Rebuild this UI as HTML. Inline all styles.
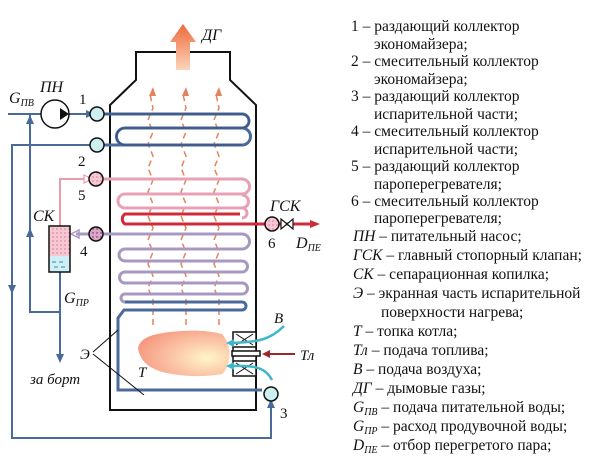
<!DOCTYPE html>
<html><head><meta charset="utf-8"><style>
html,body{margin:0;padding:0;background:#fff;}
svg{display:block}
text{font-family:"Liberation Serif",serif;fill:#111}
.i{font-style:italic}
</style></head><body>
<svg width="611" height="465" viewBox="0 0 611 465" xmlns="http://www.w3.org/2000/svg">
<defs>
<radialGradient id="fl" cx="0.75" cy="0.6" r="0.8">
<stop offset="0" stop-color="#fff6c8"/><stop offset="0.45" stop-color="#fbc7a8"/><stop offset="1" stop-color="#f5967e"/>
</radialGradient>
<linearGradient id="dg" x1="0" y1="1" x2="0" y2="0">
<stop offset="0" stop-color="#fbd5bc"/><stop offset="1" stop-color="#ef6a3a"/>
</linearGradient>
<pattern id="dots" width="4" height="4" patternUnits="userSpaceOnUse"><rect width="4" height="4" fill="#f7c8d4"/><circle cx="1" cy="1" r="0.6" fill="#c05070"/></pattern>
<pattern id="dots2" width="4" height="4" patternUnits="userSpaceOnUse"><rect width="4" height="4" fill="#d9a6c6"/><circle cx="1" cy="1" r="0.7" fill="#702050"/></pattern>
</defs>

<path d="M110,410 V105 L136,80 V52 H230 V80 L256,105 V410 Z" fill="none" stroke="#111" stroke-width="2"/>
<path d="M176,70 V42 H170 L183,24 L196,42 H190 V70 Z" fill="url(#dg)"/>
<text x="202" y="40" class="i" font-size="16">ДГ</text>

<g fill="none" stroke="#e2845c" stroke-width="1.5" stroke-dasharray="6,4">
<path d="M153,325 V300 l-5,-12 l5,-12 l-5,-12 l5,-12 l-5,-12 l5,-12 l-5,-12 l5,-12 l-5,-12 l5,-12 l-5,-12 l5,-12 l-5,-12 l5,-12 l-5,-12 l5,-12 l-3,-14"/>
<path d="M186,325 V300 l-5,-12 l5,-12 l-5,-12 l5,-12 l-5,-12 l5,-12 l-5,-12 l5,-12 l-5,-12 l5,-12 l-5,-12 l5,-12 l-5,-12 l5,-12 l-5,-12 l5,-12 l-3,-14"/>
<path d="M219,325 V300 l-5,-12 l5,-12 l-5,-12 l5,-12 l-5,-12 l5,-12 l-5,-12 l5,-12 l-5,-12 l5,-12 l-5,-12 l5,-12 l-5,-12 l5,-12 l-5,-12 l5,-12 l-3,-14"/>
</g>
<g fill="#e2845c"><path d="M149,96 l4,-9 l3,9z"/><path d="M182,96 l4,-9 l3,9z"/><path d="M215,96 l4,-9 l3,9z"/></g>

<g fill="none" stroke="#4a6a9a" stroke-width="3">
<path d="M98,114 H242 a7,7 0 0 1 0,14 H125 a8.5,8.5 0 0 0 0,17 H242 a8.5,8.5 0 0 0 0,-17"/>
<path d="M98,145 H125"/>
</g>
<g fill="none" stroke="#394f7a" stroke-width="1"><path d="M98,114 H242 a7,7 0 0 1 0,14 H125 a8.5,8.5 0 0 0 0,17 H242"/></g>

<g fill="none" stroke="#e8a0b4" stroke-width="3">
<path d="M98,179 H242 a7.5,7.5 0 0 1 0,15 H125 a7,7 0 0 0 0,14 H242 a6.5,6.5 0 0 0 0,-13"/>
</g>
<path d="M242,208 a5,5 0 0 1 0,10" fill="none" stroke="#e8a0b4" stroke-width="3"/>
<path d="M240,214 H125 a6,6 0 0 0 0,10 H310" fill="none" stroke="#d02a3a" stroke-width="3"/>
<path d="M310,220 L320,224 L310,228 Z" fill="#d02a3a"/>

<g fill="none" stroke="#a898c0" stroke-width="3">
<path d="M76,234 H242 a7.5,7.5 0 0 1 0,15 H125 a6,6 0 0 0 0,12 H242 a5.5,5.5 0 0 1 0,11 H125 a5.5,5.5 0 0 0 0,11 H242 a5.5,5.5 0 0 1 0,11 H125 a4,4 0 0 0 0,8"/>
</g>
<path d="M125,302 H242 a4,4 0 0 1 0,8 H124 L118,318 V390 H262" fill="none" stroke="#4a6a9a" stroke-width="3"/>
<path d="M71,234 l8,-4 v8z" fill="none" stroke="#a898c0" stroke-width="1.5"/>

<path d="M138,348 C140,338 152,334 170,332 C190,330 205,330 222,334 C232,345 232,365 222,374 C200,378 180,376 162,372 C150,368 140,362 138,348 Z" fill="url(#fl)"/>
<text x="138" y="377" class="i" font-size="15">Т</text>
<g stroke="#111" stroke-width="1.5" fill="#fff">
<rect x="233" y="332" width="23" height="44"/>
<line x1="233" y1="347" x2="256" y2="347"/><line x1="233" y1="361" x2="256" y2="361"/>
<path d="M236,334 L253,345 M253,334 L236,345 M236,363 L253,374 M253,363 L236,374" fill="none" stroke-width="1"/>
<rect x="232" y="351" width="28" height="5"/>
</g>
<path d="M295,354 H268" stroke="#9a2a2a" stroke-width="2"/>
<path d="M262,354 l8,-4 v8z" fill="#9a2a2a"/>
<text x="300" y="360" class="i" font-size="15">Тл</text>
<text x="274" y="323" class="i" font-size="15">В</text>
<g fill="none" stroke="#3fb7c8" stroke-width="2.5">
<path d="M284,326 C270,340 258,342 232,343"/>
<path d="M272,380 C266,368 255,365 232,366"/>
</g>
<path d="M226,343 l8,-4 v8z M226,366 l8,-4 v8z" fill="#3fb7c8"/>

<text x="80" y="359" class="i" font-size="15">Э</text>
<path d="M93,352 L118,330 M93,354 L144,395" stroke="#111" stroke-width="1" fill="none"/>

<g fill="none" stroke="#4a6a9a" stroke-width="2">
<path d="M271,402 V438 H12 V145 H90"/>
<path d="M8,114 H41"/>
<path d="M69,114 H86"/>
<path d="M30,114 V312 H60"/>
<path d="M60,272 V355"/>
</g>
<g fill="#4a6a9a">
<path d="M86,110 l8,4 l-8,4z"/>
<path d="M26,124 l4,-9 l4,9z"/><path d="M26,237 l4,-9 l4,9z"/>
<path d="M8,285 l4,9 l4,-9z"/>
<path d="M56,354 l4,9 l4,-9z"/>
<path d="M267,408 l4,-9 l4,9z"/>
</g>
<text x="9" y="103" class="i" font-size="16">G<tspan font-size="10" dy="3">ПВ</tspan></text>
<text x="30" y="384" class="i" font-size="15">за борт</text>
<text x="64" y="303" class="i" font-size="16">G<tspan font-size="10" dy="3">ПР</tspan></text>
<circle cx="55" cy="114" r="14" fill="#fff" stroke="#111" stroke-width="1.5"/>
<path d="M60,108 L69,114 L60,120 Z" fill="#111"/>
<text x="40" y="92" class="i" font-size="16">ПН</text>

<path d="M60,226 V179 H89" fill="none" stroke="#ee9aaa" stroke-width="2"/>
<path d="M84,175 l8,4 l-8,4z" fill="#fff" stroke="#ee9aaa" stroke-width="1.2"/>
<rect x="49" y="226" width="21" height="30" fill="url(#dots)"/>
<rect x="49" y="256" width="21" height="16" fill="#cdeff5"/>
<path d="M52,262 h4 M59,262 h4 M54,267 h4 M61,267 h4" stroke="#3a8aa0"/>
<rect x="49" y="226" width="21" height="46" fill="none" stroke="#111" stroke-width="1.5"/>
<text x="33" y="221" class="i" font-size="16">СК</text>

<g stroke="#111" stroke-width="1.5">
<circle cx="97" cy="114" r="7" fill="#cdeff0"/>
<circle cx="97" cy="145" r="7" fill="#cdeff0"/>
<circle cx="96" cy="179" r="7" fill="url(#dots)"/>
<circle cx="96" cy="234" r="7" fill="url(#dots2)"/>
<circle cx="271" cy="394" r="7" fill="#cdeff0"/>
<circle cx="272" cy="224" r="7" fill="url(#dots)"/>
</g>
<path d="M281,219 L293,229 V219 L281,229 Z" fill="#fff" stroke="#111" stroke-width="1.2"/>
<g font-size="15">
<text x="79" y="104">1</text>
<text x="78" y="166">2</text>
<text x="78" y="200">5</text>
<text x="80" y="256">4</text>
<text x="268" y="248">6</text>
<text x="280" y="418">3</text>
</g>
<text x="270" y="211" class="i" font-size="16">ГСК</text>
<text x="296" y="248" class="i" font-size="16">D<tspan font-size="10" dy="3">ПЕ</tspan></text>

<g font-size="15.5">
<text x="351" y="31">1 – раздающий коллектор</text>
<text x="374" y="49">экономайзера;</text>
<text x="351" y="66">2 – смесительный коллектор</text>
<text x="374" y="84">экономайзера;</text>
<text x="351" y="101">3 – раздающий коллектор</text>
<text x="374" y="119">испарительной части;</text>
<text x="351" y="136">4 – смесительный коллектор</text>
<text x="374" y="154">испарительной части;</text>
<text x="351" y="171">5 – раздающий коллектор</text>
<text x="374" y="189">пароперегревателя;</text>
<text x="351" y="206">6 – смесительный коллектор</text>
<text x="374" y="223">пароперегревателя;</text>
<text x="353" y="241"><tspan class="i">ПН</tspan>  – питательный насос;</text>
<text x="353" y="260"><tspan class="i">ГСК</tspan>  – главный стопорный клапан;</text>
<text x="353" y="279"><tspan class="i">СК</tspan>  – сепарационная копилка;</text>
<text x="353" y="298"><tspan class="i">Э</tspan>  – экранная часть испарительной</text>
<text x="381" y="317">поверхности нагрева;</text>
<text x="353" y="336"><tspan class="i">Т</tspan>  – топка котла;</text>
<text x="353" y="355"><tspan class="i">Тл</tspan>  – подача топлива;</text>
<text x="353" y="374"><tspan class="i">В</tspan>  – подача воздуха;</text>
<text x="353" y="393"><tspan class="i">ДГ</tspan>  – дымовые газы;</text>
<text x="353" y="412"><tspan class="i">G<tspan font-size="10" dy="3">ПВ</tspan></tspan><tspan dy="-3"> – подача питательной воды;</tspan></text>
<text x="353" y="431"><tspan class="i">G<tspan font-size="10" dy="3">ПР</tspan></tspan><tspan dy="-3"> – расход продувочной воды;</tspan></text>
<text x="353" y="450"><tspan class="i">D<tspan font-size="10" dy="3">ПЕ</tspan></tspan><tspan dy="-3"> – отбор перегретого пара;</tspan></text>
</g>
</svg>
</body></html>
